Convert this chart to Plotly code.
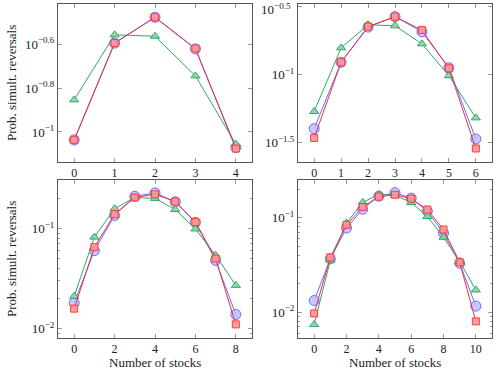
import plotly.graph_objects as go

# values (probability of simultaneous reversals)
stocks_a = [0, 1, 2, 3, 4]
blue_a = [0.092, 0.254, 0.333, 0.239, 0.085]
red_a = [0.092, 0.254, 0.333, 0.240, 0.084]
green_a = [0.140, 0.277, 0.273, 0.180, 0.088]

stocks_b = [0, 1, 2, 3, 4, 5, 6]
blue_b = [0.040, 0.123, 0.223, 0.266, 0.206, 0.112, 0.0336]
red_b = [0.0342, 0.123, 0.225, 0.266, 0.212, 0.111, 0.0286]
green_b = [0.0535, 0.157, 0.232, 0.228, 0.168, 0.098, 0.048]

stocks_c = [0, 1, 2, 3, 4, 5, 6, 7, 8]
blue_c = [0.018, 0.060, 0.135, 0.210, 0.227, 0.185, 0.115, 0.048, 0.0138]
red_c = [0.0158, 0.065, 0.139, 0.204, 0.220, 0.186, 0.116, 0.050, 0.011]
green_c = [0.021, 0.082, 0.158, 0.204, 0.200, 0.155, 0.099, 0.054, 0.027]

stocks_d = [0, 1, 2, 3, 4, 5, 6, 7, 8, 9, 10]
blue_d = [0.0133, 0.0367, 0.0776, 0.123, 0.169, 0.184, 0.161, 0.117, 0.0687, 0.033, 0.0116]
red_d = [0.0097, 0.038, 0.084, 0.130, 0.167, 0.175, 0.159, 0.122, 0.075, 0.0338, 0.008]
green_d = [0.0074, 0.0355, 0.088, 0.145, 0.177, 0.172, 0.145, 0.103, 0.062, 0.0344, 0.0172]

panels = [
    (stocks_a, blue_a, red_a, green_a),
    (stocks_b, blue_b, red_b, green_b),
    (stocks_c, blue_c, red_c, green_c),
    (stocks_d, blue_d, red_d, green_d),
]

W, H = 495, 371
FONT = "Liberation Serif"
FRAME = "#555555"
TICK = "#999999"

# plot frames in pixels: (left, right, top, bottom)
boxes = [(58, 252, 4, 162), (298, 492, 4, 162), (58, 252, 180, 338), (298, 492, 180, 338)]
xranges = [[-0.4, 4.4], [-0.6, 6.6], [-0.8, 8.8], [-1, 11]]
yranges = [[-1.137, -0.417], [-1.643, -0.482], [-2.095, -0.515], [-2.273, -0.601]]
xticks = [[0, 1, 2, 3, 4], [0, 1, 2, 3, 4, 5, 6], [0, 2, 4, 6, 8], [0, 2, 4, 6, 8, 10]]
ytickvals = [
    [10 ** -1, 10 ** -0.8, 10 ** -0.6],
    [10 ** -1.5, 10 ** -1, 10 ** -0.5],
    [0.01, 0.1],
    [0.01, 0.1],
]
# the top label of panel 2 sits at the page edge, it is drawn as an annotation below
yticktext = [
    ["10<sup>−1</sup>", "10<sup>−0.8</sup>", "10<sup>−0.6</sup>"],
    ["10<sup>−1.5</sup>", "10<sup>−1</sup>", ""],
    ["10<sup>−2</sup>", "10<sup>−1</sup>"],
    ["10<sup>−2</sup>", "10<sup>−1</sup>"],
]
minor_log = [k * 10 ** e for e in (-3, -2, -1) for k in range(2, 10)]

fig = go.Figure()

for i, (xs, b, r, g) in enumerate(panels):
    n = "" if i == 0 else str(i + 1)
    xa, ya = "x" + n, "y" + n
    fig.add_trace(go.Scatter(
        x=xs, y=b, xaxis=xa, yaxis=ya, mode="lines+markers",
        line=dict(color="#6b6bff", width=1),
        marker=dict(symbol="circle", size=10, color="rgba(190,190,255,0.85)",
                    line=dict(color="#6b6bff", width=1)),
        showlegend=False))
    fig.add_trace(go.Scatter(
        x=xs, y=g, xaxis=xa, yaxis=ya, mode="lines+markers",
        line=dict(color="#2fa76a", width=1),
        marker=dict(symbol="triangle-up", size=8, color="rgba(140,210,165,0.9)",
                    line=dict(color="#2fa76a", width=1)),
        showlegend=False))
    fig.add_trace(go.Scatter(
        x=xs, y=r, xaxis=xa, yaxis=ya, mode="lines+markers",
        line=dict(color="#e8304a", width=1),
        marker=dict(symbol="square", size=7, color="rgba(255,150,150,0.9)",
                    line=dict(color="#ff3b3b", width=1)),
        showlegend=False))

    l, rr, t, btm = boxes[i]
    key = "" if i == 0 else str(i + 1)
    fig.layout["xaxis" + key] = dict(
        domain=[l / W, rr / W], anchor=ya, range=xranges[i], automargin=False,
        tickvals=xticks[i], ticks="inside", ticklen=4, tickcolor=TICK,
        showline=True, linecolor=FRAME, linewidth=1, mirror="ticks",
        showgrid=False, zeroline=False,
        tickfont=dict(family=FONT, size=12, color="#222"))
    yax = dict(
        domain=[1 - btm / H, 1 - t / H], anchor=xa, type="log", range=yranges[i],
        automargin=False,
        tickvals=ytickvals[i], ticktext=yticktext[i],
        ticks="inside", ticklen=4, tickcolor=TICK,
        showline=True, linecolor=FRAME, linewidth=1, mirror="ticks",
        showgrid=False, zeroline=False,
        tickfont=dict(family=FONT, size=13, color="#222"))
    if i >= 2:
        yax["minor"] = dict(tickvals=minor_log, ticks="inside", ticklen=2,
                            tickcolor=TICK, showgrid=False)
    fig.layout["yaxis" + key] = yax

fig.add_annotation(xref="paper", yref="y2", x=293 / W, y=-0.5, showarrow=False,
                   xanchor="right", yanchor="middle", yshift=-3,
                   text="10<sup>−0.5</sup>",
                   font=dict(family=FONT, size=13, color="#222"))

annos = [
    dict(text="Prob. simult. reversals", x=11 / W, y=1 - 83 / H, textangle=-90),
    dict(text="Prob. simult. reversals", x=11 / W, y=1 - 259 / H, textangle=-90),
    dict(text="Number of stocks", x=155 / W, y=1 - 362 / H),
    dict(text="Number of stocks", x=395 / W, y=1 - 362 / H),
]
for a in annos:
    fig.add_annotation(xref="paper", yref="paper", showarrow=False,
                       xanchor="center", yanchor="middle",
                       font=dict(family=FONT, size=13, color="#222"), **a)

fig.update_layout(
    width=W, height=H,
    margin=dict(l=0, r=0, t=0, b=0),
    paper_bgcolor="white", plot_bgcolor="white",
)

# the page body has a default margin that would shift the figure
fig.write_html("out.html", config={"displayModeBar": False},
               post_script="document.body.style.margin='0';")
